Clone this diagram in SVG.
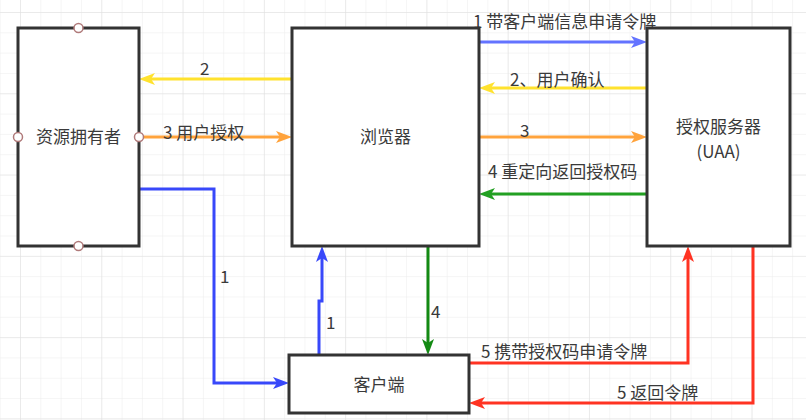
<svg xmlns="http://www.w3.org/2000/svg" width="806" height="420" viewBox="0 0 806 420">
<style>
.box{fill:#ffffff;stroke:#333333;stroke-width:3}
.lbl{font-family:"Noto Sans CJK SC","Liberation Sans",sans-serif;font-size:17px;fill:#3a3a3a}
.mid{text-anchor:middle}
.c{fill:none;stroke-width:3}
.port{fill:#ffffff;stroke:#b07a7a;stroke-width:1.5}
</style>
<defs>
<pattern id="gminor" width="20.32" height="20.32" patternUnits="userSpaceOnUse" x="20" y="12">
<path d="M0,0 H20.32 M0,0 V20.32" fill="none" stroke="#ececec" stroke-width="1"/>
</pattern>
<pattern id="gmajor" width="81.28" height="81.28" patternUnits="userSpaceOnUse" x="20" y="12">
<path d="M0,0 H81.28 M0,0 V81.28" fill="none" stroke="#e0e0e0" stroke-width="1"/>
</pattern>
<marker id="mBlueL" markerUnits="userSpaceOnUse" markerWidth="16" markerHeight="14" viewBox="0 0 16 14" refX="8" refY="7" orient="auto"><path d="M0,1 L16,7 L0,13 L4,7 z" fill="#6373ff"/></marker>
<marker id="mBlue" markerUnits="userSpaceOnUse" markerWidth="16" markerHeight="14" viewBox="0 0 16 14" refX="8" refY="7" orient="auto"><path d="M0,1 L16,7 L0,13 L4,7 z" fill="#3848fa"/></marker>
<marker id="mYel" markerUnits="userSpaceOnUse" markerWidth="16" markerHeight="14" viewBox="0 0 16 14" refX="8" refY="7" orient="auto"><path d="M0,1 L16,7 L0,13 L4,7 z" fill="#ffe22e"/></marker>
<marker id="mOra" markerUnits="userSpaceOnUse" markerWidth="16" markerHeight="14" viewBox="0 0 16 14" refX="8" refY="7" orient="auto"><path d="M0,1 L16,7 L0,13 L4,7 z" fill="#ffa33c"/></marker>
<marker id="mGrnL" markerUnits="userSpaceOnUse" markerWidth="16" markerHeight="14" viewBox="0 0 16 14" refX="8" refY="7" orient="auto"><path d="M0,1 L16,7 L0,13 L4,7 z" fill="#22a022"/></marker>
<marker id="mGrn" markerUnits="userSpaceOnUse" markerWidth="16" markerHeight="14" viewBox="0 0 16 14" refX="8" refY="7" orient="auto"><path d="M0,1 L16,7 L0,13 L4,7 z" fill="#138a13"/></marker>
<marker id="mRed" markerUnits="userSpaceOnUse" markerWidth="16" markerHeight="14" viewBox="0 0 16 14" refX="8" refY="7" orient="auto"><path d="M0,1 L16,7 L0,13 L4,7 z" fill="#ff3322"/></marker>
</defs>
<rect x="0" y="0" width="806" height="420" fill="#ffffff"/>
<rect x="0" y="0" width="806" height="420" fill="url(#gminor)"/>
<rect x="0" y="0" width="806" height="420" fill="url(#gmajor)"/>

<g id="connectors">
<path class="c" d="M479,42 H639" stroke="#6373ff" marker-end="url(#mBlueL)"/>
<path class="c" d="M647,88 H487" stroke="#ffe22e" marker-end="url(#mYel)"/>
<path class="c" d="M479,137 H639" stroke="#ffa33c" marker-end="url(#mOra)"/>
<path class="c" d="M647,194 H487" stroke="#22a022" marker-end="url(#mGrnL)"/>
<path class="c" d="M292,79 H147" stroke="#ffe22e" marker-end="url(#mYel)"/>
<path class="c" d="M143.5,137 H284" stroke="#ffa33c" marker-end="url(#mOra)"/>
<path class="c" d="M139,189 H214 V383 H281" stroke="#3848fa" marker-end="url(#mBlue)"/>
<path class="c" d="M319,355 V301 H322 V254" stroke="#3848fa" marker-end="url(#mBlue)"/>
<path class="c" d="M428,246 V347" stroke="#138a13" marker-end="url(#mGrn)"/>
<path class="c" d="M469,363 H688 V254" stroke="#ff3322" marker-end="url(#mRed)"/>
<path class="c" d="M753,246 V403 H477" stroke="#ff3322" marker-end="url(#mRed)"/>
<text class="lbl" x="473" y="28">1 带客户端信息申请令牌</text>
<text class="lbl" x="510" y="86">2、用户确认</text>
<text class="lbl" x="520" y="137">3</text>
<text class="lbl" x="488" y="178">4 重定向返回授权码</text>
<text class="lbl" x="200" y="75">2</text>
<text class="lbl" x="163" y="139">3 用户授权</text>
<text class="lbl" x="220" y="283">1</text>
<text class="lbl" x="326" y="329">1</text>
<text class="lbl" x="431" y="318">4</text>
<text class="lbl" x="481" y="358">5 携带授权码申请令牌</text>
<text class="lbl" x="617" y="399">5 返回令牌</text>
</g>

<g id="owner">
<rect class="box" x="18" y="28" width="121" height="218"/>
<text class="lbl mid" x="78.5" y="143">资源拥有者</text>
<circle class="port" cx="78.5" cy="28" r="4.5"/>
<circle class="port" cx="78.5" cy="246" r="4.5"/>
<circle class="port" cx="18" cy="137" r="4.5"/>
<circle class="port" cx="139" cy="137" r="4.5"/>
</g>

<g id="browser">
<rect class="box" x="292" y="28" width="187" height="218"/>
<text class="lbl mid" x="385.5" y="143">浏览器</text>
</g>

<g id="uaa">
<rect class="box" x="647" y="28" width="143" height="218"/>
<text class="lbl mid" x="718.5" y="132.5">授权服务器</text>
<text class="lbl mid" x="718.5" y="157.5">(UAA)</text>
</g>

<g id="client">
<rect class="box" x="289" y="355" width="180" height="58"/>
<text class="lbl mid" x="379" y="391">客户端</text>
</g>
</svg>
